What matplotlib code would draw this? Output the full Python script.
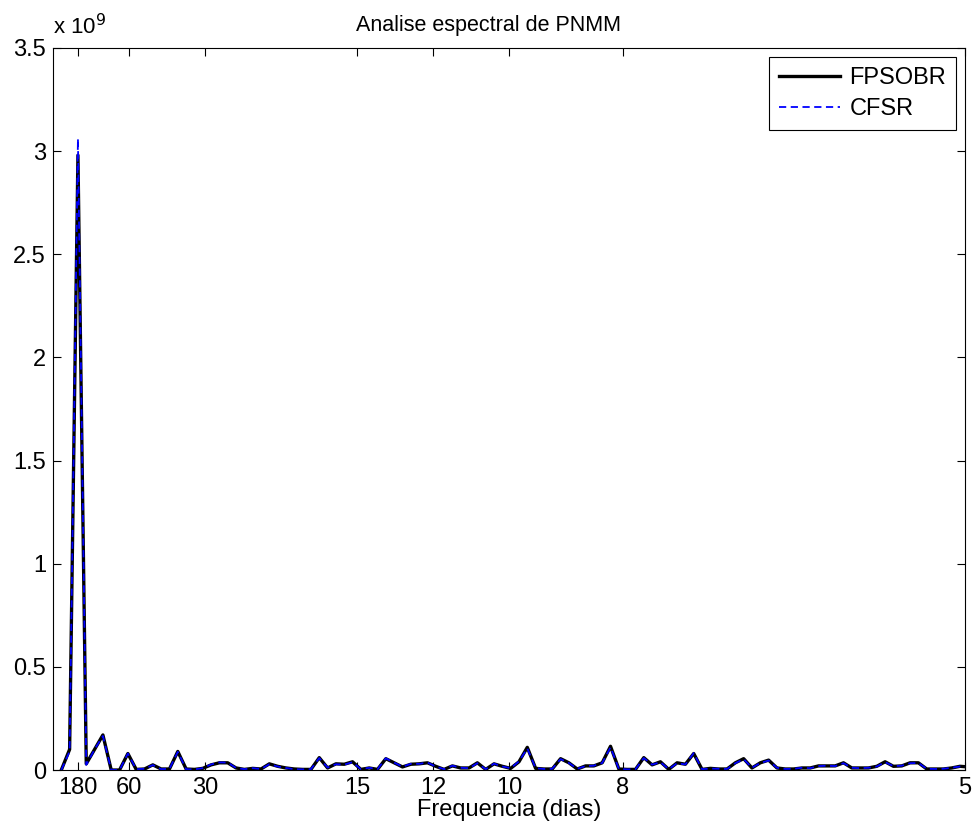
import numpy as np
from matplotlib import pyplot as plt

plt.rcParams['font.family'] = ['Liberation Sans', 'DejaVu Sans']

# espectro de potencia (unidades de 1e9), bins k/N com N = 548 dias
n_days = 548
fpsobr = [0.0, 0.10, 2.98, 0.03, 0.10, 0.17, 0.0, 0.0, 0.08, 0.003,
          0.005, 0.025, 0.005, 0.005, 0.09, 0.005, 0.003, 0.008, 0.025, 0.035,
          0.035, 0.01, 0.003, 0.008, 0.005, 0.03, 0.018, 0.01, 0.005, 0.003,
          0.003, 0.06, 0.01, 0.03, 0.028, 0.04, 0.003, 0.01, 0.003, 0.055,
          0.035, 0.015, 0.028, 0.03, 0.035, 0.018, 0.003, 0.02, 0.01, 0.01,
          0.035, 0.003, 0.03, 0.018, 0.008, 0.04, 0.11, 0.008, 0.005, 0.005,
          0.055, 0.035, 0.005, 0.02, 0.02, 0.035, 0.115, 0.005, 0.003, 0.003,
          0.06, 0.025, 0.04, 0.003, 0.035, 0.028, 0.08, 0.003, 0.008, 0.005,
          0.005, 0.035, 0.055, 0.01, 0.035, 0.048, 0.01, 0.005, 0.005, 0.01,
          0.01, 0.02, 0.02, 0.02, 0.035, 0.01, 0.01, 0.01, 0.018, 0.04,
          0.018, 0.02, 0.035, 0.035, 0.005, 0.005, 0.005, 0.01, 0.018, 0.015]
cfsr = [0.0, 0.09, 3.06, 0.025, 0.10, 0.165, 0.0, 0.0, 0.08, 0.004,
        0.006, 0.024, 0.004, 0.006, 0.088, 0.004, 0.003, 0.009, 0.027, 0.037,
        0.036, 0.01, 0.004, 0.009, 0.005, 0.028, 0.017, 0.01, 0.004, 0.003,
        0.004, 0.058, 0.012, 0.028, 0.026, 0.038, 0.004, 0.011, 0.004, 0.057,
        0.036, 0.016, 0.03, 0.03, 0.036, 0.017, 0.004, 0.021, 0.011, 0.009,
        0.033, 0.004, 0.031, 0.017, 0.009, 0.042, 0.105, 0.009, 0.005, 0.006,
        0.053, 0.034, 0.006, 0.019, 0.021, 0.034, 0.11, 0.006, 0.003, 0.004,
        0.058, 0.026, 0.038, 0.004, 0.033, 0.027, 0.082, 0.004, 0.007, 0.006,
        0.005, 0.033, 0.053, 0.011, 0.034, 0.046, 0.011, 0.005, 0.006, 0.011,
        0.009, 0.019, 0.021, 0.019, 0.033, 0.011, 0.009, 0.011, 0.017, 0.038,
        0.019, 0.021, 0.033, 0.034, 0.006, 0.005, 0.006, 0.011, 0.017, 0.016]
periods = [180, 60, 30, 15, 12, 10, 8, 5]

freq = np.arange(1, len(fpsobr) + 1) / n_days

fig = plt.figure(figsize=(9.72, 8.33), dpi=100)
ax = fig.add_axes([0.0545, 0.0756, 0.9383, 0.8668])

ax.plot(freq, fpsobr, color='black', lw=2.4, label='FPSOBR')
ax.plot(freq, cfsr, color='blue', lw=1.3, ls=(0, (4, 2.5)), label='CFSR')

ax.set_xlim(0, 0.2)
ax.set_ylim(0, 3.5)
ax.set_xticks([1.0 / p for p in periods])
ax.set_xticklabels([str(p) for p in periods])
ax.set_yticks(np.arange(0, 3.51, 0.5))
ax.set_yticklabels(['0', '0.5', '1', '1.5', '2', '2.5', '3', '3.5'])
ax.tick_params(direction='in', length=6, width=0.8, labelsize=17,
               top=True, right=True, pad=5)
for s in ax.spines.values():
    s.set_linewidth(0.8)

ax.set_title('Analise espectral de PNMM', fontsize=15.5, pad=12, x=0.478)
ax.set_xlabel('Frequencia (dias)', fontsize=17, labelpad=0)
ax.text(0.0, 1.012, r'x 10$^{9}$', transform=ax.transAxes, fontsize=16,
        ha='left', va='bottom')

leg = ax.legend(loc='upper right', fontsize=17, fancybox=False,
                edgecolor='black', framealpha=1, handlelength=2.6,
                borderaxespad=0.4, handletextpad=0.4, labelspacing=0.4,
                borderpad=0.4)
leg.get_frame().set_linewidth(0.8)

plt.savefig('out.png', format='png', dpi=100)
plt.close(fig=fig)
